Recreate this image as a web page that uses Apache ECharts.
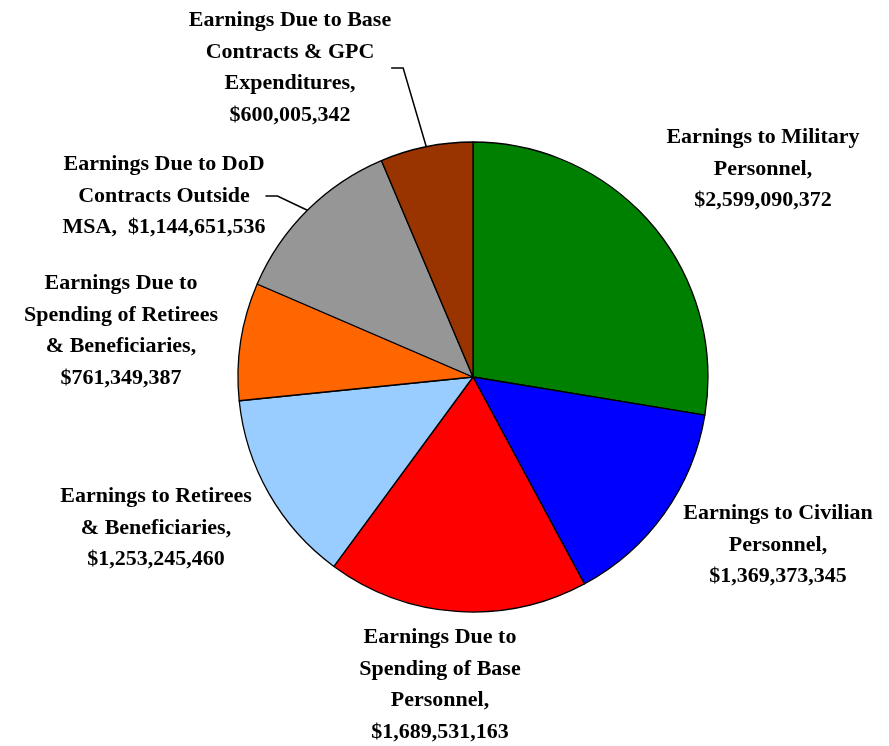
<!DOCTYPE html>
<html style="height: 100%">
<head>
<meta charset="utf-8">
<script src="https://cdn.jsdelivr.net/npm/echarts@6/dist/echarts.min.js"></script>
<style>
  html, body { margin: 0; height: 100%; background: #fff; }
</style>
</head>
<body>
<div id="container" style="width: 889px; height: 746px"></div>
<script>
// slice names (with the line breaks used in the labels) and values
var names = [
  'Earnings to Military\nPersonnel,',
  'Earnings to Civilian\nPersonnel,',
  'Earnings Due to\nSpending of Base\nPersonnel,',
  'Earnings to Retirees\n& Beneficiaries,',
  'Earnings Due to\nSpending of Retirees\n& Beneficiaries,',
  'Earnings Due to DoD\nContracts Outside\nMSA, ',
  'Earnings Due to Base\nContracts & GPC\nExpenditures,'
];
var values = [2599090372, 1369373345, 1689531163, 1253245460, 761349387, 1144651536, 600005342];
var colors = ['#008000', '#0000FF', '#FF0000', '#99CCFF', '#FF6600', '#969696', '#993300'];

// label centres (pixels)
var labelPos = [
  [763, 169], [778, 545], [440, 685], [156, 528], [121, 331], [164, 196], [290, 68]
];
var withLine = [false, false, false, false, false, true, true];

var data = names.map(function (n, i) {
  return {
    name: n,
    value: values[i],
    itemStyle: { color: colors[i] },
    labelLine: { show: withLine[i] }
  };
});

var dom = document.getElementById('container');
var myChart = echarts.init(dom);
var option = {
  animation: false,
  series: [{
    type: 'pie',
    center: [473, 377],
    radius: 235,
    startAngle: 90,
    clockwise: true,
    avoidLabelOverlap: false,
    itemStyle: { borderColor: '#000', borderWidth: 1.3 },
    label: {
      show: true,
      position: 'outside',
      color: '#000',
      fontFamily: '"Liberation Serif", "Times New Roman", serif',
      fontWeight: 'bold',
      fontSize: 22,
      lineHeight: 31.5,
      align: 'center',
      formatter: function (p) {
        var v = '$' + p.value.toLocaleString('en-US');
        return p.dataIndex === 5 ? p.name + ' ' + v : p.name + '\n' + v;
      }
    },
    labelLine: {
      lineStyle: { color: '#000', width: 1.5 },
      length: 10,
      length2: 12
    },
    labelLayout: function (params) {
      var pos = labelPos[params.dataIndex];
      return {
        x: pos[0],
        y: pos[1],
        align: 'center',
        verticalAlign: 'middle'
      };
    },
    emphasis: { disabled: true },
    data: data
  }]
};
myChart.setOption(option);
window.onresize = function () { myChart.resize(); };
</script>
</body>
</html>
